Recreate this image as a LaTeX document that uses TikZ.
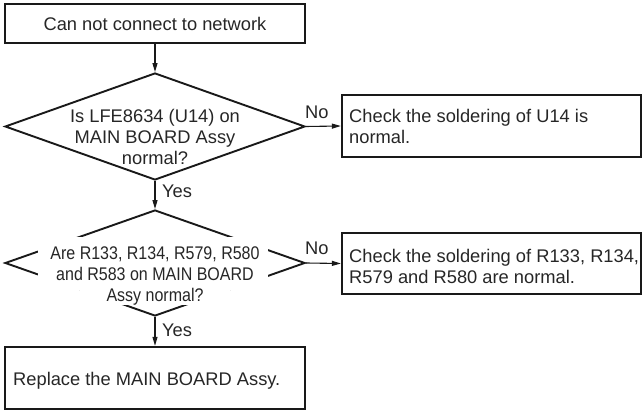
\documentclass[tikz,border=0pt]{standalone}
\usepackage{fontspec}
\setmainfont{Liberation Sans}
\newfontfamily\condfont[FakeStretch=0.875]{Liberation Sans}
\usetikzlibrary{shapes.geometric,arrows.meta}
\begin{document}
\begin{tikzpicture}[x=1pt,y=-1pt,
  txt/.style={font=\fontsize{18.3}{21}\selectfont, text=black!85, inner sep=0},
  ctxt/.style={font=\condfont\fontsize{18.3}{21}\selectfont, text=black!85, inner sep=0},
  boxc/.style={draw=black!90, line width=2.3pt, inner sep=0},
  dia/.style={diamond, draw=black!90, line width=1.9pt, inner sep=0, minimum width=300pt},
  arr/.style={draw=black!90, line width=1.1pt, -{Triangle[length=9pt,width=5pt]}},
]
\useasboundingbox (0,0) rectangle (642,411);

% boxes
\node[boxc, minimum width=300pt, minimum height=39pt] (start) at (155,23.5) {};
\node[txt, anchor=base] (startT) at (155,31) {Can not connect to network};

\node[dia, minimum height=107pt] (d1) at (155,126.5) {};
\node[txt, anchor=base] (d1a) at (155,123) {Is LFE8634 (U14) on};
\node[txt, anchor=base] (d1b) at (155,144) {MAIN BOARD Assy};
\node[txt, anchor=base] (d1c) at (155,165) {normal?};

\node[boxc, minimum width=299pt, minimum height=62pt] (c1) at (491.5,126) {};
\node[txt, anchor=base west] (c1a) at (349,123) {Check the soldering of U14 is};
\node[txt, anchor=base west] (c1b) at (349,144) {normal.};

\node[dia, minimum height=106pt] (d2) at (155,263) {};
\fill[white] (38,237) rectangle (268,290);
\fill[white] (80,290) rectangle (230,305.5);
\node[ctxt, anchor=base] (d2a) at (155,260) {Are R133, R134, R579, R580};
\node[ctxt, anchor=base] (d2b) at (155,281) {and R583 on MAIN BOARD};
\node[ctxt, anchor=base] (d2c) at (155,302) {Assy normal?};

\node[boxc, minimum width=299pt, minimum height=61pt] (c2) at (491.5,263.5) {};
\node[txt, anchor=base west] (c2a) at (349,263) {Check the soldering of R133, R134,};
\node[txt, anchor=base west] (c2b) at (349,284) {R579 and R580 are normal.};

\node[boxc, minimum width=300pt, minimum height=62pt] (fin) at (155,378) {};
\node[txt, anchor=base west] (finT) at (13,385) {Replace the MAIN BOARD Assy.};

% connectors
\draw[arr] (start.south) -- (d1.north);
\draw[arr] (d1.south) -- (d2.north);
\draw[arr] (d1.east) -- (c1.west);
\draw[arr] (d2.south) -- (fin.north);
\draw[arr] (d2.east) -- (c2.west);

% labels
\node[txt, anchor=base west] (y1) at (162,198) {Yes};
\node[txt, anchor=base west] (y2) at (162,337) {Yes};
\node[txt, anchor=base west] (n1) at (305,119) {No};
\node[txt, anchor=base west] (n2) at (305,255) {No};
\end{tikzpicture}
\end{document}
